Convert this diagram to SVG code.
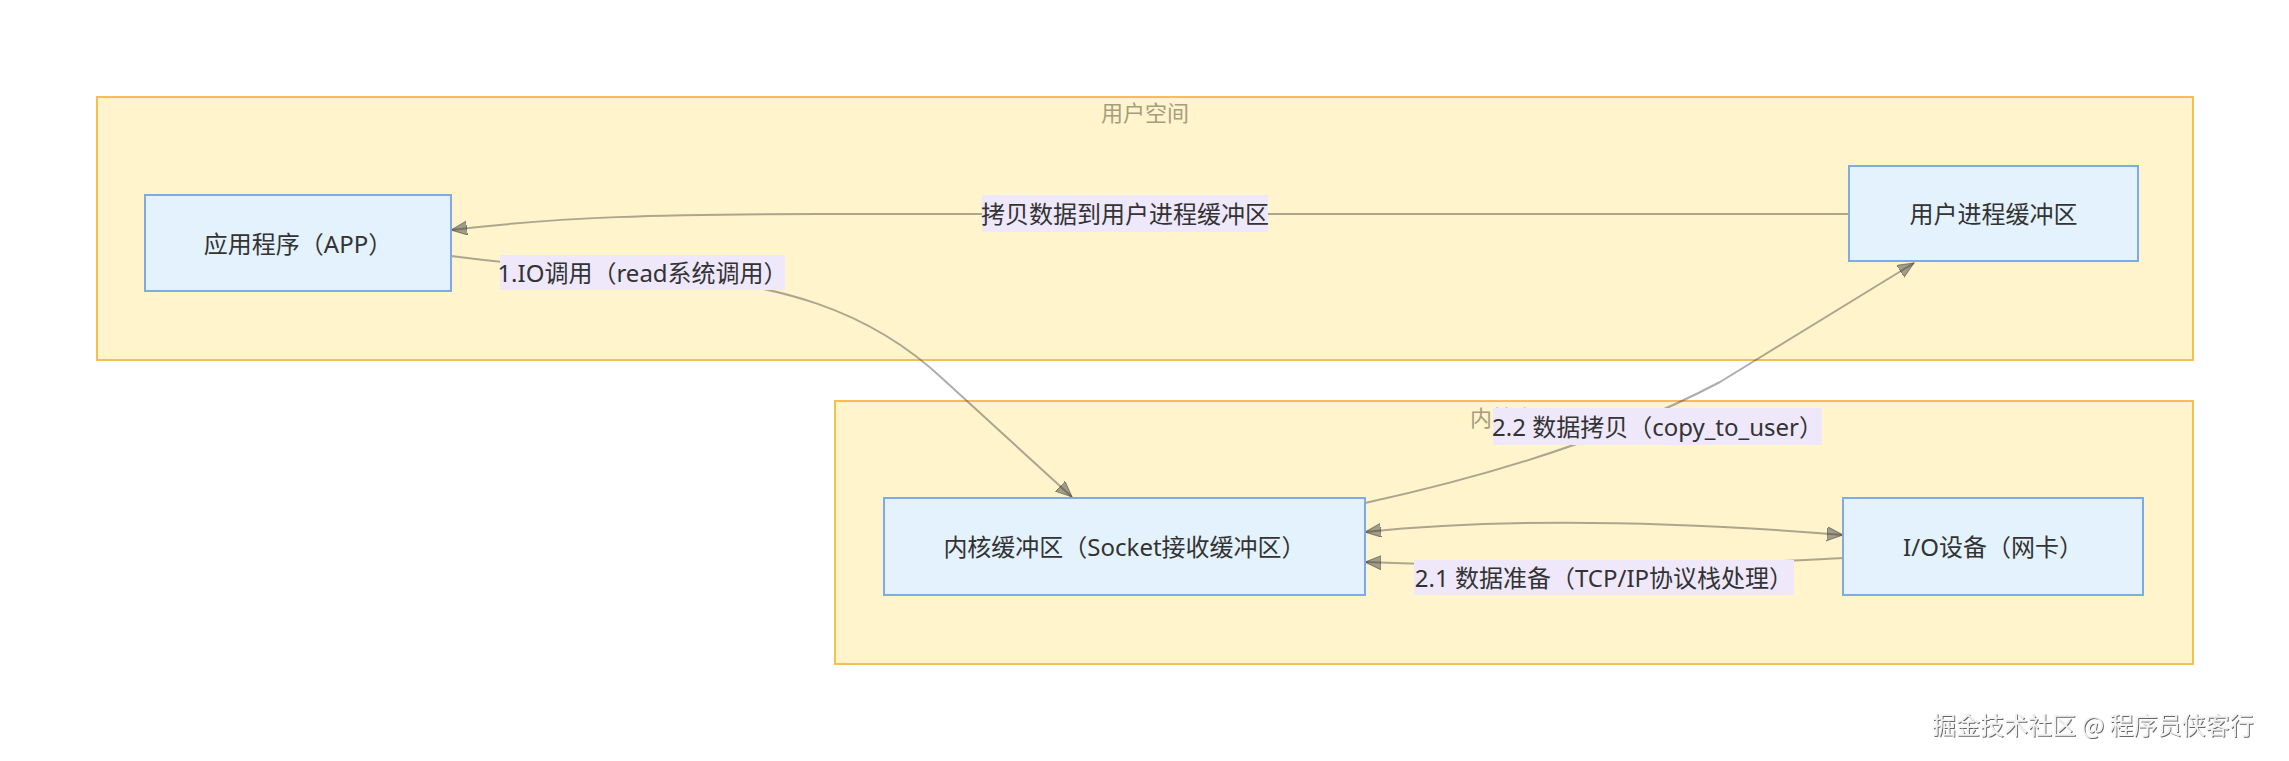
<svg xmlns="http://www.w3.org/2000/svg" width="2289" height="761" viewBox="0 0 2289 761">
<style>
.cluster{fill:#fff4cc;stroke:#f4c150;stroke-width:2}
.clabel{font-family:"Noto Sans","Noto Sans CJK SC",sans-serif;font-size:22px;fill:#a59d7e;text-anchor:middle}
.node rect{fill:#e3f2fd;stroke:#7eaae6;stroke-width:2}
.node text{font-family:"Noto Sans","Noto Sans CJK SC",sans-serif;font-size:24px;fill:#333;text-anchor:middle;dominant-baseline:central}
.edge{fill:none;stroke:#333;stroke-opacity:0.4;stroke-width:2}
.elabel rect{fill:#eee8fa}
.elabel text{font-family:"Noto Sans","Noto Sans CJK SC",sans-serif;font-size:24px;fill:#333;text-anchor:middle;dominant-baseline:central}
.wm{font-family:"Noto Sans CJK SC","Noto Sans",sans-serif;font-size:24px;fill:#f2f2f2;filter:url(#shadow)}
</style>
<defs>
<marker id="arrow" markerUnits="userSpaceOnUse" markerWidth="18" markerHeight="16" refX="16" refY="7" orient="auto-start-reverse">
<path d="M0,0 L16,7 L0,14 z" fill="#333" fill-opacity="0.45" stroke="#333" stroke-opacity="0.5" stroke-width="1"/>
</marker>
<filter id="shadow" x="-5%" y="-20%" width="110%" height="160%">
<feDropShadow dx="1" dy="1" stdDeviation="0.6" flood-color="#555" flood-opacity="0.9"/>
</filter>
</defs>
<rect width="2289" height="761" fill="#ffffff"/>

<g id="cluster-user">
<rect class="cluster" x="97" y="97" width="2096" height="263"/>
<text class="clabel" x="1145" y="121">用户空间</text>
</g>
<g id="cluster-kernel">
<rect class="cluster" x="835" y="401" width="1358" height="263"/>
<text class="clabel" x="1514" y="426">内核空间</text>
</g>

<g id="connectors">
<path class="edge" d="M1849,214 L820,214 C660,214 560,217 451,230" marker-end="url(#arrow)"/>
<path class="edge" d="M451,256 C520,265 590,270 642,273 C780,282 870,310 944,380 L1072,497" marker-end="url(#arrow)"/>
<path class="edge" d="M1365,503 C1480,478 1610,440 1720,382 L1914,263" marker-end="url(#arrow)"/>
<path class="edge" d="M1365,532 Q1560,512 1843,535" marker-start="url(#arrow)" marker-end="url(#arrow)"/>
<path class="edge" d="M1843,558 Q1600,572 1365,562" marker-end="url(#arrow)"/>
</g>

<g id="node-app" class="node">
<rect x="145" y="195" width="306" height="96"/>
<text x="298" y="243">应用程序（APP）</text>
</g>
<g id="node-userbuf" class="node">
<rect x="1849" y="166" width="289" height="95"/>
<text x="1993.5" y="213.5">用户进程缓冲区</text>
</g>
<g id="node-kernelbuf" class="node">
<rect x="884" y="498" width="481" height="97"/>
<text x="1124.5" y="546.5">内核缓冲区（Socket接收缓冲区）</text>
</g>
<g id="node-io" class="node">
<rect x="1843" y="498" width="300" height="97"/>
<text x="1993" y="546.5">I/O设备（网卡）</text>
</g>

<g id="edge-labels">
<g class="elabel"><rect x="982" y="195" width="286" height="37"/><text x="1125" y="213.5">拷贝数据到用户进程缓冲区</text></g>
<g class="elabel"><rect x="500" y="255" width="285" height="35"/><text x="642.5" y="272.5">1.IO调用（read系统调用）</text></g>
<g class="elabel"><rect x="1493" y="408" width="329" height="37"/><text x="1657.5" y="426.5">2.2 数据拷贝（copy_to_user）</text></g>
<g class="elabel"><rect x="1414" y="560" width="380" height="35"/><text x="1604" y="577.5">2.1 数据准备（TCP/IP协议栈处理）</text></g>
</g>

<text class="wm" x="1932" y="734">掘金技术社区 @ 程序员侠客行</text>
</svg>
